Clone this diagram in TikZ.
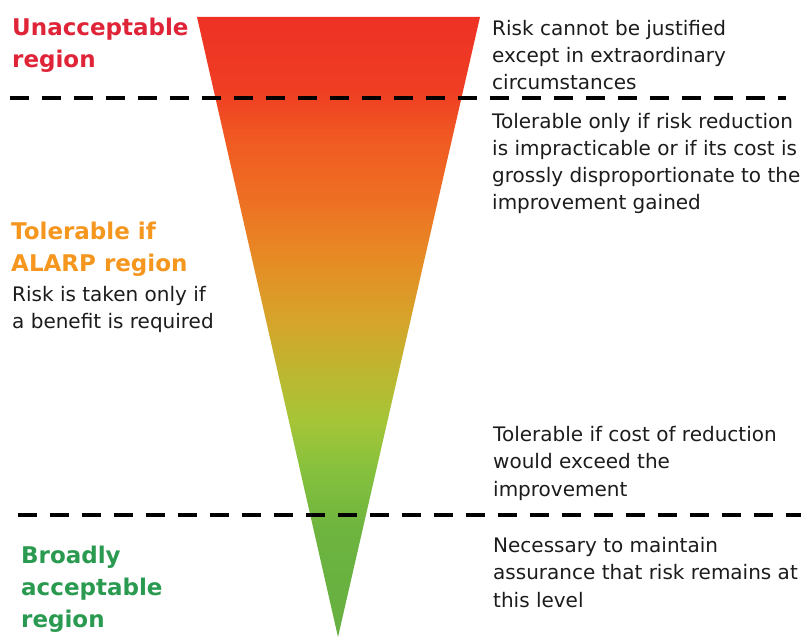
\documentclass[tikz,border=0pt]{standalone}
\usepackage{fontspec}
\setmainfont{DejaVu Sans}
\begin{document}
% vertical colour ramp of the risk triangle (bottom = 25bp, top = 75bp)
\pgfdeclareverticalshading{riskramp}{100bp}{%
  color(0bp)=(rgb,255:red,102;green,176;blue,66);
  color(25bp)=(rgb,255:red,102;green,176;blue,66);
  color(33.6bp)=(rgb,255:red,109;green,180;blue,63);
  color(38.5bp)=(rgb,255:red,134;green,193;blue,61);
  color(42.5bp)=(rgb,255:red,166;green,197;blue,55);
  color(46.5bp)=(rgb,255:red,190;green,182;blue,48);
  color(50.6bp)=(rgb,255:red,214;green,164;blue,42);
  color(55.4bp)=(rgb,255:red,230;green,140;blue,36);
  color(60.2bp)=(rgb,255:red,238;green,112;blue,35);
  color(65.1bp)=(rgb,255:red,240;green,90;blue,34);
  color(69.1bp)=(rgb,255:red,239;green,62;blue,35);
  color(75bp)=(rgb,255:red,238;green,49;blue,36);
  color(100bp)=(rgb,255:red,238;green,49;blue,36)}
\definecolor{headred}{RGB}{224,36,56}
\definecolor{headorange}{RGB}{245,150,30}
\definecolor{headgreen}{RGB}{42,154,80}
\definecolor{bodygray}{RGB}{28,28,28}
% multi-line nodes are placed by the baseline of their last line
\begin{tikzpicture}[x=1pt,y=-1pt,
  bodytext/.style={inner sep=0pt,anchor=base west,align=left,text=bodygray,
    font=\fontsize{20}{27.3}\selectfont},
  headtext/.style={inner sep=0pt,anchor=base west,align=left,
    font=\fontsize{23}{32}\selectfont\bfseries},
  divider/.style={line width=4.5pt,dash pattern=on 19pt off 13pt,black}]
\useasboundingbox (0,0) rectangle (801,639);
% risk triangle
\coordinate (tl) at (197,17);
\coordinate (tr) at (480,17);
\coordinate (apex) at (338,637);
\shade[shading=riskramp] (tl) -- (tr) -- (apex) -- cycle;
% region boundaries
\coordinate (d1a) at (10,98);
\coordinate (d1b) at (786,98);
\coordinate (d2a) at (18,515);
\coordinate (d2b) at (801,515);
\draw[divider] (d1a) -- (d1b);
\draw[divider] (d2a) -- (d2b);
% region headings
\node[headtext,text=headred] (unacc) at (12,68) {Unacceptable\\region};
\node[headtext,text=headorange] (alarp) at (11,272) {Tolerable if\\ALARP region};
\node[bodytext,font=\fontsize{20}{26.5}\selectfont] (alarpnote) at (12,328) {Risk is taken only if\\a benefit is required};
\node[headtext,text=headgreen] (broad) at (21,627) {Broadly\\acceptable\\region};
% explanations
\node[bodytext] (r1) at (492,90) {Risk cannot be justified\\except in extraordinary\\circumstances};
\node[bodytext] (r2) at (492,210) {Tolerable only if risk reduction\\is impracticable or if its cost is\\grossly disproportionate to the\\improvement gained};
\node[bodytext] (r3) at (493,496) {Tolerable if cost of reduction\\would exceed the\\improvement};
\node[bodytext] (r4) at (493,607) {Necessary to maintain\\assurance that risk remains at\\this level};
\end{tikzpicture}
\end{document}
